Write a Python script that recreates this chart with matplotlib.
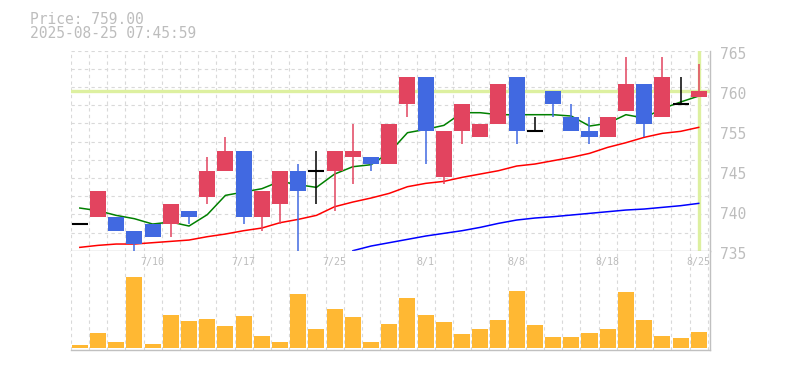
import numpy as np
import matplotlib.pyplot as plt
import matplotlib.transforms as mtransforms

plt.rcParams['font.family'] = ['DejaVu Sans Mono']

# 날짜 (7/4 ~ 8/25, 35 거래일)
dates = ['7/4', '7/7', '7/8', '7/9', '7/10', '7/11', '7/14', '7/15', '7/16', '7/17',
         '7/18', '7/22', '7/23', '7/24', '7/25', '7/28', '7/29', '7/30', '7/31', '8/1',
         '8/4', '8/5', '8/6', '8/7', '8/8', '8/12', '8/13', '8/14', '8/15', '8/18',
         '8/19', '8/20', '8/21', '8/22', '8/25']
label_dates = ['7/10', '7/17', '7/25', '8/1', '8/8', '8/18', '8/25']

opens = [739, 740, 740, 738, 739, 739, 741, 743, 747, 750,
         740, 742, 747, 747, 747, 749, 749, 748, 757, 761,
         746, 753, 752, 754, 761, 753, 759, 755, 753, 752,
         756, 760, 755, 757, 758]
highs = [739, 744, 740, 738, 739, 742, 741, 749, 752, 750,
         744, 747, 748, 750, 750, 754, 749, 754, 761, 761,
         753, 757, 754, 760, 761, 755, 759, 757, 755, 755,
         764, 760, 764, 761, 763]
lows = [739, 740, 738, 735, 737, 737, 739, 742, 747, 739,
        738, 739, 735, 742, 741, 745, 747, 748, 755, 748,
        745, 751, 752, 754, 751, 753, 755, 753, 751, 752,
        756, 752, 755, 757, 758]
closes = [739, 744, 738, 736, 737, 742, 740, 747, 750, 740,
          744, 747, 744, 747, 750, 750, 748, 754, 761, 753,
          753, 757, 754, 760, 753, 753, 757, 753, 752, 755,
          760, 754, 761, 757, 759]

# 이동평균선
ma5 = [741.4, 741.0, 740.3, 739.8, 739.0, 739.3, 738.7, 740.4, 743.3, 743.8,
       744.3, 745.4, 744.9, 744.5, 746.5, 747.6, 747.9, 749.7, 752.7, 753.2,
       753.8, 755.7, 755.7, 755.4, 755.4, 755.4, 755.4, 755.2, 753.7, 754.1,
       755.4, 754.9, 756.3, 757.3, 758.2]
ma25 = [735.5, 735.8, 736.0, 736.0, 736.2, 736.4, 736.6, 737.1, 737.5, 738.0,
        738.4, 739.2, 739.7, 740.3, 741.6, 742.3, 742.9, 743.6, 744.6, 745.1,
        745.4, 746.0, 746.5, 747.0, 747.7, 748.0, 748.5, 749.0, 749.6, 750.5,
        751.2, 752.0, 752.6, 752.9, 753.5]
ma75 = [np.nan] * 15 + [735.0, 735.7, 736.2, 736.7, 737.2, 737.6, 738.0, 738.5, 739.1, 739.6,
                        739.9, 740.1, 740.35, 740.6, 740.85, 741.1, 741.25, 741.5, 741.75, 742.1]

# 거래량 (천주)
volume = [3, 15.3, 6, 71.3, 4, 33, 27, 29, 22, 32,
          12, 6, 54, 19, 39, 31, 6, 24, 50, 33,
          26, 14, 19, 28, 57, 23, 11, 11, 15, 19,
          56, 28, 12, 10, 16]

ytick_vals = [765, 759, 753, 747, 741, 735]
ytick_labels = ['765', '760', '755', '745', '740', '735']

opens = np.array(opens); closes = np.array(closes)
highs = np.array(highs); lows = np.array(lows)
x = np.arange(len(dates))

text_c = '#bdbdbd'
grid_c = '#d9d9d9'
edge_c = '#c0c0c0'
up_c = '#e2445f'
down_c = '#4169e1'
now_c = '#ddf0a0'

fig = plt.figure(figsize=(7.85, 3.70), dpi=100)
ax = fig.add_axes([70.7/785, 1 - 250.7/370, 639.3/785, 200/370])
axv = fig.add_axes([70.7/785, 20/370, 639.3/785, 99.3/370])

xlim = (-0.5, 34.62)
for a in (ax, axv):
    a.set_xlim(*xlim)
    for b in np.arange(-0.5, 35):
        a.axvline(b, color=grid_c, lw=0.8, ls=(0, (3, 3)), zorder=0)
    a.spines['left'].set_visible(False)
    a.spines['top'].set_visible(False)
    for s in ('right', 'bottom'):
        a.spines[s].set_color(edge_c)
        a.spines[s].set_linewidth(1.0)
    a.tick_params(axis='x', bottom=False, labelbottom=False)

ax.set_ylim(735, 765)
for k in range(11):
    ax.axhline(765 - k * 30 / 11, color=grid_c, lw=0.8, ls=(0, (3, 3)), zorder=0)

# 현재가 라인
ax.axhline(closes[-1], color=now_c, lw=2.4, zorder=1)
ax.axvline(x[-1], color=now_c, lw=2.4, zorder=1)

# 이동평균선
ax.plot(x, ma5, color='green', lw=1.1, zorder=2)
ax.plot(x, ma25, color='red', lw=1.1, zorder=2)
ax.plot(x, ma75, color='blue', lw=1.1, zorder=2)

# 캔들
flat = closes == opens
cols = np.where(closes > opens, up_c, down_c)
cols = np.where(flat, 'black', cols)
ax.vlines(x, lows, highs, colors=cols, lw=1.1, zorder=3)
ax.bar(x[~flat], (closes - opens)[~flat], bottom=opens[~flat], width=0.88,
       color=cols[~flat], zorder=4)
ax.hlines(closes[flat], x[flat] - 0.44, x[flat] + 0.44, colors='black', lw=1.5, zorder=4)

ax.yaxis.tick_right()
ax.set_yticks(ytick_vals)
ax.set_yticklabels(ytick_labels)
ax.tick_params(axis='y', length=0, pad=7.2, labelsize=10.5, labelcolor=text_c)
shift = mtransforms.ScaledTranslation(0, -2 / 100, fig.dpi_scale_trans)
for lab in ax.get_yticklabels():
    lab.set_transform(lab.get_transform() + shift)

# 거래량
axv.bar(x, volume, width=0.88, color='#ffb833', zorder=2)
axv.set_ylim(-2, 97.3)
axv.set_yticks([])
trans = mtransforms.blended_transform_factory(axv.transData, axv.transAxes)
for d in label_dates:
    axv.text(dates.index(d), 0.886, d, transform=trans, ha='center', va='center',
             fontsize=7.2, color=text_c, zorder=5)

fig.text(30/785, 1 - 23.5/370, f'Price: {closes[-1]:.2f}', fontsize=10.5,
         color=text_c, va='baseline')
fig.text(30/785, 1 - 38.5/370, '2025-08-25 07:45:59', fontsize=10.5,
         color=text_c, va='baseline')

fig.savefig('out.png', dpi=100)
